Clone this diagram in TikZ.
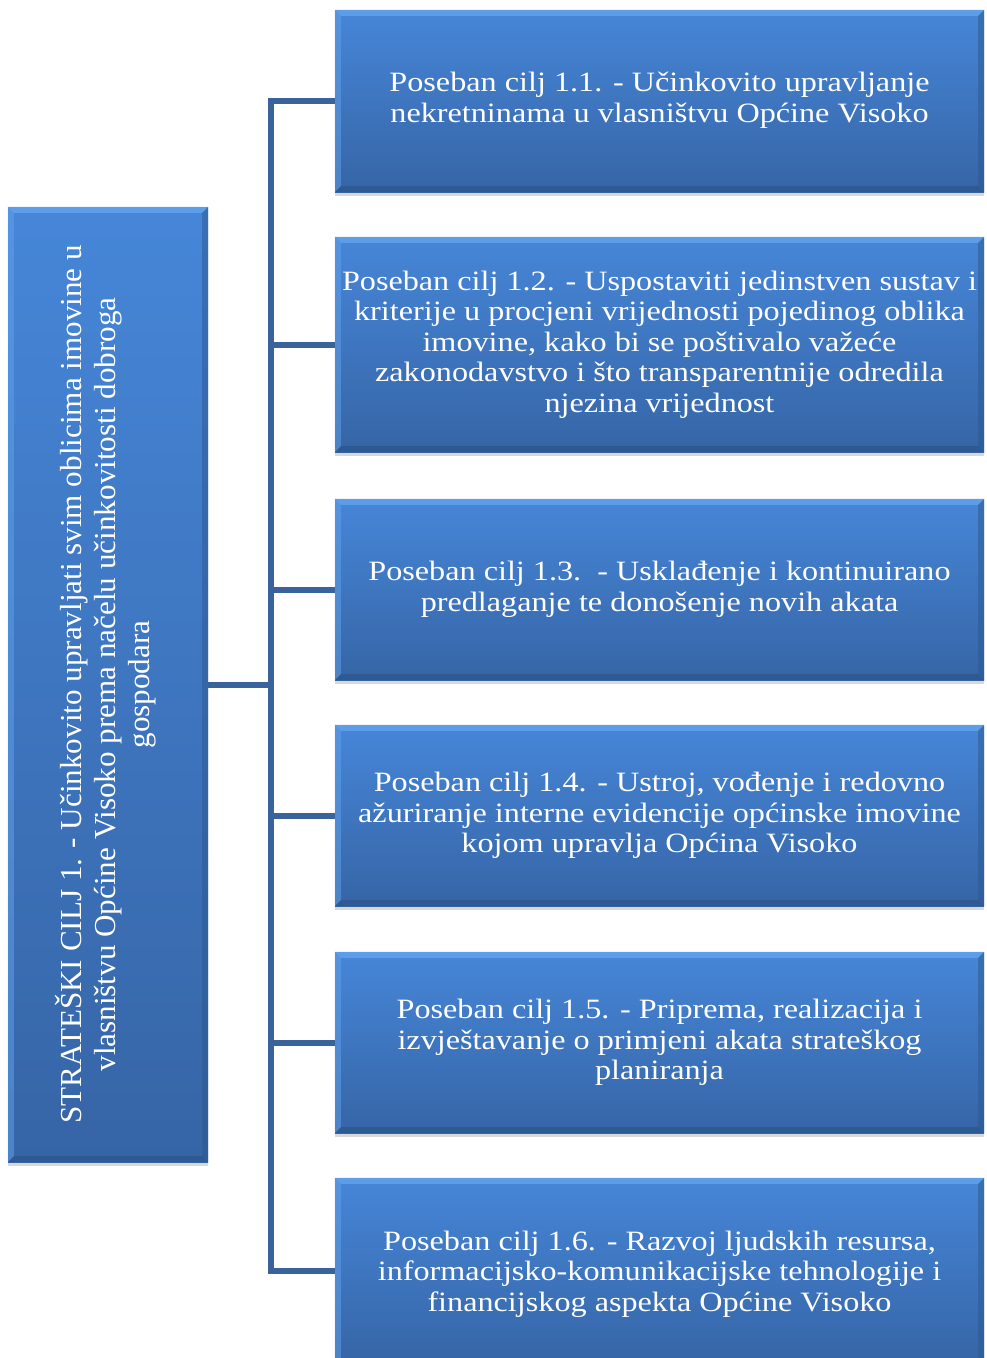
\documentclass[tikz,border=0pt]{standalone}
\usepackage{fontspec}
\setmainfont{Liberation Serif}
\newfontfamily\boxfont[FakeStretch=1.15]{Liberation Serif}
\newfontfamily\leftfont[FakeStretch=1.02]{Liberation Serif}
\usetikzlibrary{shadows,calc}
\definecolor{boxtop}{HTML}{4686D8}
\definecolor{boxbot}{HTML}{3665A6}
\definecolor{bevlight}{HTML}{62A2EC}
\definecolor{bevdark}{HTML}{2D5890}
\definecolor{connc}{HTML}{3A639C}
\tikzset{
  goalbox/.style={draw=none, top color=boxtop, bottom color=boxbot, inner sep=0pt,
    drop shadow={opacity=0.3, shadow xshift=0pt, shadow yshift=-4pt},
    text=white, align=center},
  conn/.style={draw=connc, line width=6pt},
}
\newcommand{\bevelbox}[1]{%
  \fill[bevlight, opacity=0.85] (#1.north west) -- (#1.north east) -- ([xshift=-6pt,yshift=-6pt]#1.north east) -- ([xshift=6pt,yshift=-6pt]#1.north west) -- cycle;
  \fill[bevlight, opacity=0.5] (#1.north west) -- ([xshift=6pt,yshift=-6pt]#1.north west) -- ([xshift=6pt,yshift=6pt]#1.south west) -- (#1.south west) -- cycle;
  \fill[bevdark, opacity=0.8] (#1.south west) -- ([xshift=6pt,yshift=6pt]#1.south west) -- ([xshift=-6pt,yshift=6pt]#1.south east) -- (#1.south east) -- cycle;
  \fill[bevdark, opacity=0.5] (#1.north east) -- (#1.south east) -- ([xshift=-6pt,yshift=6pt]#1.south east) -- ([xshift=-6pt,yshift=-6pt]#1.north east) -- cycle;
}
\begin{document}
\begin{tikzpicture}[x=1pt,y=-1pt]
\useasboundingbox (0,0) rectangle (986,1358);
\fill[white] (0,0) rectangle (986,1358);
% connectors
\coordinate (bus) at (271,684.5);
\node[goalbox, minimum width=200pt, minimum height=955pt] (L) at (108,684.5) {};
\node[goalbox, minimum width=649pt, minimum height=182pt] (B1) at (659.5,101) {};
\node[goalbox, minimum width=649pt, minimum height=215pt] (B2) at (659.5,344.5) {};
\node[goalbox, minimum width=649pt, minimum height=181pt] (B3) at (659.5,589.5) {};
\node[goalbox, minimum width=649pt, minimum height=181pt] (B4) at (659.5,815.5) {};
\node[goalbox, minimum width=649pt, minimum height=181pt] (B5) at (659.5,1042.5) {};
\node[goalbox, minimum width=649pt, minimum height=186pt] (B6) at (659.5,1271) {};
\foreach \n in {L,B1,B2,B3,B4,B5,B6}{\bevelbox{\n}}
\draw[conn] (L.east) -- (bus);
\draw[conn, line join=miter] (B1.west) -| (bus) |- (B6.west);
\foreach \n in {B2,B3,B4,B5}{\draw[conn] (\n.west) -- (\n.west -| bus);}
% texts
\node[text=white, align=center, rotate=90, font=\leftfont\fontsize{30.5}{34}\selectfont] (Lt) at ([xshift=-2pt]L.center)
  {STRATEŠKI CILJ 1. - Učinkovito upravljati svim oblicima imovine u\\ vlasništvu Općine Visoko prema načelu učinkovitosti dobroga\\ gospodara};
\tikzset{btext/.style={text=white, align=center, font=\boxfont\fontsize{28}{30.5}\selectfont}}
\node[btext] (T1) at ([yshift=1pt]B1.center) {Poseban cilj 1.1. - Učinkovito upravljanje\\ nekretninama u vlasništvu Općine Visoko};
\node[btext] (T2) at (B2.center) {Poseban cilj 1.2. - Uspostaviti jedinstven sustav i\\ kriterije u procjeni vrijednosti pojedinog oblika\\ imovine, kako bi se poštivalo važeće\\ zakonodavstvo i što transparentnije odredila\\ njezina vrijednost};
\node[btext] (T3) at (B3.center) {Poseban cilj 1.3.\ \ - Usklađenje i kontinuirano\\ predlaganje te donošenje novih akata};
\node[btext] (T4) at (B4.center) {Poseban cilj 1.4. - Ustroj, vođenje i redovno\\ ažuriranje interne evidencije općinske imovine\\ kojom upravlja Općina Visoko};
\node[btext] (T5) at (B5.center) {Poseban cilj 1.5. - Priprema, realizacija i\\ izvještavanje o primjeni akata strateškog\\ planiranja};
\node[btext] (T6) at ([yshift=-3pt]B6.center) {Poseban cilj 1.6. - Razvoj ljudskih resursa,\\ informacijsko-komunikacijske tehnologije i\\ financijskog aspekta Općine Visoko};
\end{tikzpicture}
\end{document}
